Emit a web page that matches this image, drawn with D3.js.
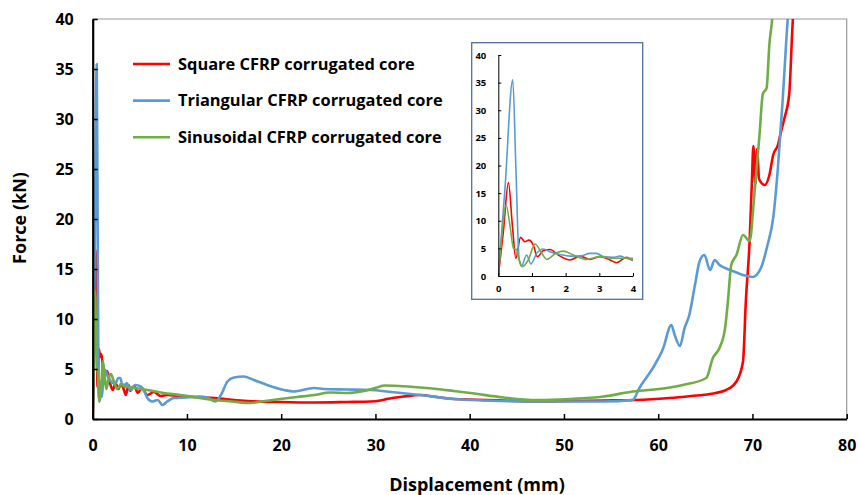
<!DOCTYPE html>
<html>
<head>
<meta charset="utf-8">
<script src="https://cdn.jsdelivr.net/npm/d3@7"></script>
<style>
  body { margin: 0; background: #fff; }
  svg { display: block; font-family: "Open Sans", Lato, sans-serif; font-weight: bold; }
</style>
</head>
<body>
<div id="area"></div>
<script>
// force (kN) vs displacement (mm)
var squareData = [
  [0,0],[0.15,8],[0.3,16.9],[0.42,9],[0.52,3.2],[0.66,7.0],[0.79,6.2],[0.91,6.5],[1.04,5.6],[1.16,3.5],
  [1.34,4.6],[1.53,4.8],[1.83,3.6],[2.13,2.9],[2.43,3.6],[2.72,3.0],[3.02,3.5],[3.32,2.9],[3.51,2.4],
  [3.81,3.4],[4.0,2.8],[4.4,3.3],[4.8,2.6],[5.2,3.1],[5.8,2.4],[6.5,2.7],[7.2,2.3],[8.0,2.4],[9.3,2.25],
  [11,2.2],[12.9,2.1],[14.5,1.95],[16.4,1.8],[19.9,1.7],[23.5,1.65],[27,1.7],[29.5,1.75],[30.5,1.85],
  [31.2,2.0],[33,2.25],[34.75,2.4],[36.5,2.2],[38.3,2.0],[43.6,1.85],[47.1,1.75],[50.6,1.8],[54.2,1.85],
  [57.7,1.9],[61.2,2.1],[63.5,2.3],[65.5,2.5],[67.2,2.9],[68.3,3.75],[69.0,5.75],[69.3,11.8],[69.7,17.8],
  [69.95,24],[70.1,27.3],[70.3,23.5],[70.5,27],[70.7,24],[71.3,23.4],[71.8,24.4],[72.2,26.4],[72.7,27.4],
  [73.05,28.8],[73.4,30.1],[73.9,32.5],[74.3,40.1],[74.5,42]
];
var triangularData = [
  [0,0],[0.2,16],[0.43,35.5],[0.52,20],[0.62,2.9],[0.69,1.8],[0.84,3.8],[0.97,2.2],[1.14,4.1],[1.34,4.9],
  [1.53,4.4],[1.83,3.9],[2.13,3.6],[2.43,3.6],[2.72,4.1],[2.92,4.1],[3.12,3.5],[3.42,3.4],[3.61,3.6],
  [3.81,3.2],[4.0,2.9],[4.5,3.4],[5.1,3.25],[5.5,2.7],[5.8,2.1],[6.3,1.75],[6.9,1.9],[7.4,1.4],[7.9,1.75],
  [8.6,2.1],[10,2.15],[11.5,2.25],[12.3,2.1],[13.0,1.75],[13.6,2.4],[14.3,3.75],[15.0,4.15],[16.0,4.25],
  [17.1,3.9],[18.5,3.4],[20.3,2.9],[21.3,2.75],[23.5,3.1],[24.5,3.0],[27,2.95],[29.5,2.9],[31.2,2.75],
  [34.75,2.4],[38.3,2.0],[41.8,1.85],[47.1,1.75],[54.2,1.75],[57.3,1.9],[58.0,3.1],[59.5,5.2],[60.5,7.0],
  [61.4,9.4],[61.75,8.4],[62.3,7.3],[62.8,9.1],[63.3,10.4],[63.9,13.4],[64.4,15.8],[64.9,16.4],[65.5,14.9],
  [66.0,15.9],[66.5,15.4],[67.1,15.1],[67.9,14.8],[69.0,14.4],[70.0,14.2],[70.9,15.1],[71.6,17.4],
  [72.2,20.1],[72.7,25.1],[73.2,31.8],[73.75,40.1],[74,43]
];
var sinusoidalData = [
  [0,0],[0.1,7],[0.23,12.85],[0.35,9],[0.45,5.0],[0.54,4.8],[0.62,3],[0.71,1.7],[0.89,2.9],[1.09,5.8],
  [1.29,4.1],[1.44,3.0],[1.73,4.2],[1.93,4.5],[2.23,3.8],[2.62,3.0],[3.02,3.5],[3.42,3.2],[4.0,3.2],
  [4.5,3.1],[5.8,2.9],[7.5,2.6],[9.3,2.4],[11,2.15],[12.9,1.9],[14.8,1.75],[16.75,1.6],[18.3,1.8],
  [19.9,2.0],[21.7,2.2],[23.5,2.4],[25.2,2.65],[27,2.6],[28.75,2.8],[30.5,3.25],[30.9,3.35],[32.5,3.3],
  [34.75,3.15],[36.5,3.0],[38.3,2.8],[40.05,2.6],[43.6,2.15],[47.1,1.9],[50.6,2.0],[54.2,2.25],[57.3,2.75],
  [60.9,3.1],[62.6,3.4],[65.1,4.1],[65.8,6.1],[66.5,7.1],[67.1,9.1],[67.4,11.8],[67.75,15.4],[68.3,16.4],
  [69.0,18.4],[69.7,17.8],[70.2,22.4],[70.75,28.4],[71.1,32.5],[71.5,33.1],[71.8,37.5],[72.1,40.1],[72.3,43]
];

var seriesNames = ['Square CFRP corrugated core', 'Triangular CFRP corrugated core', 'Sinusoidal CFRP corrugated core'];
var seriesColors = ['#FF0000', '#5B9BD5', '#70AD47'];
var xTicks = [0, 10, 20, 30, 40, 50, 60, 70, 80];
var yTicks = [0, 5, 10, 15, 20, 25, 30, 35, 40];
var insetXTicks = [0, 1, 2, 3, 4];

var allSeries = [squareData, triangularData, sinusoidalData];

var width = 858, height = 495;

var svg = d3.select('#area').append('svg')
    .attr('width', width)
    .attr('height', height);

// main scales
var x = d3.scaleLinear().domain([0, 80]).range([92.7, 846.7]);
var y = d3.scaleLinear().domain([0, 40]).range([419, 19]);

svg.append('clipPath').attr('id', 'mainClip')
  .append('rect')
    .attr('x', x(0)).attr('y', y(40))
    .attr('width', x(80) - x(0)).attr('height', y(0) - y(40));

// gray frame on top and right
svg.append('path')
    .attr('d', 'M' + x(0) + ',' + y(40) + 'H' + x(80) + 'V' + y(0))
    .attr('fill', 'none')
    .attr('stroke', '#9a9a9a')
    .attr('stroke-width', 1.2);

var line = d3.line()
    .x(function(d) { return x(d[0]); })
    .y(function(d) { return y(d[1]); })
    .curve(d3.curveMonotoneX);

var curves = svg.append('g').attr('clip-path', 'url(#mainClip)');
allSeries.forEach(function(s, i) {
  curves.append('path')
      .datum(s)
      .attr('d', line)
      .attr('fill', 'none')
      .attr('stroke', seriesColors[i])
      .attr('stroke-width', 2.6)
      .attr('stroke-linejoin', 'round');
});

// axes
var xAxis = svg.append('g')
    .attr('transform', 'translate(0,' + y(0) + ')')
    .call(d3.axisBottom(x).tickValues(xTicks).tickSizeInner(-5).tickSizeOuter(0).tickPadding(21));
var yAxis = svg.append('g')
    .attr('transform', 'translate(' + x(0) + ',0)')
    .call(d3.axisLeft(y).tickValues(yTicks).tickSizeInner(-5).tickSizeOuter(0).tickPadding(19));

[xAxis, yAxis].forEach(function(a) {
  a.select('.domain').attr('stroke', '#000').attr('stroke-width', 2.2);
  a.selectAll('.tick line').attr('stroke', '#000').attr('stroke-width', 1.5);
  a.selectAll('.tick text')
      .attr('fill', '#000')
      .style('font-family', '"Open Sans", sans-serif')
      .style('font-weight', 'bold')
      .style('font-size', '16px');
});

svg.append('text')
    .attr('x', 477)
    .attr('y', 491)
    .attr('text-anchor', 'middle')
    .style('font-size', '18px')
    .text('Displacement (mm)');

svg.append('text')
    .attr('transform', 'translate(26,218) rotate(-90)')
    .attr('text-anchor', 'middle')
    .style('font-size', '18px')
    .text('Force (kN)');

// legend
var legend = svg.append('g').attr('transform', 'translate(133,64)');
seriesNames.forEach(function(name, i) {
  var row = legend.append('g').attr('transform', 'translate(0,' + (i * 36.6) + ')');
  row.append('line')
      .attr('x1', 0).attr('x2', 37)
      .attr('stroke', seriesColors[i])
      .attr('stroke-width', 2.6);
  row.append('text')
      .attr('x', 45)
      .attr('y', 5.8)
      .style('font-size', '16.4px')
      .text(name);
});

// inset: zoom on 0-4 mm
var inset = svg.append('g');
inset.append('rect')
    .attr('x', 471.7).attr('y', 42.7)
    .attr('width', 171).attr('height', 256.6)
    .attr('fill', '#fff')
    .attr('stroke', '#4F71A1')
    .attr('stroke-width', 1.3);

var xi = d3.scaleLinear().domain([0, 4]).range([498.3, 633]);
var yi = d3.scaleLinear().domain([0, 40]).range([276, 55]);

svg.append('clipPath').attr('id', 'insetClip')
  .append('rect')
    .attr('x', xi(0)).attr('y', yi(40))
    .attr('width', xi(4) - xi(0)).attr('height', yi(0) - yi(40));

var insetLine = d3.line()
    .x(function(d) { return xi(d[0]); })
    .y(function(d) { return yi(d[1]); })
    .curve(d3.curveMonotoneX);

var insetCurves = inset.append('g').attr('clip-path', 'url(#insetClip)');
allSeries.forEach(function(s, i) {
  insetCurves.append('path')
      .datum(s.filter(function(d) { return d[0] <= 4.6; }))
      .attr('d', insetLine)
      .attr('fill', 'none')
      .attr('stroke', seriesColors[i])
      .attr('stroke-width', 1.6);
});

var xiAxis = inset.append('g')
    .attr('transform', 'translate(0,' + yi(0) + ')')
    .call(d3.axisBottom(xi).tickValues(insetXTicks).tickFormat(d3.format('d'))
      .tickSizeInner(-3).tickSizeOuter(0).tickPadding(9));
var yiAxis = inset.append('g')
    .attr('transform', 'translate(' + xi(0) + ',0)')
    .call(d3.axisLeft(yi).tickValues(yTicks).tickSizeInner(-3).tickSizeOuter(0).tickPadding(12));

[xiAxis, yiAxis].forEach(function(a) {
  a.select('.domain').attr('stroke', '#000').attr('stroke-width', 1);
  a.selectAll('.tick line').attr('stroke', '#000').attr('stroke-width', 1);
  a.selectAll('.tick text')
      .attr('fill', '#000')
      .style('font-family', '"Open Sans", sans-serif')
      .style('font-weight', 'bold')
      .style('font-size', '9.5px');
});
</script>
</body>
</html>
